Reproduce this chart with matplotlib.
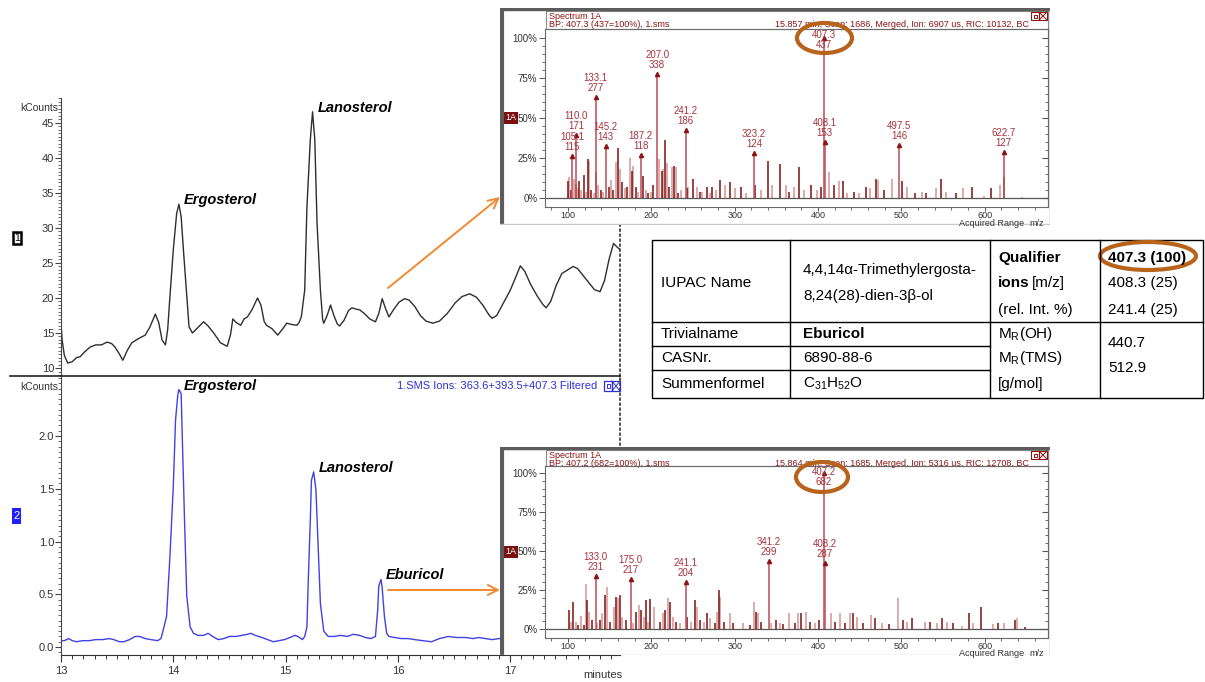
import numpy as np
import matplotlib
matplotlib.use("Agg")
import matplotlib.pyplot as plt
from matplotlib.patches import Rectangle, Ellipse, FancyArrowPatch
from matplotlib.ticker import MultipleLocator, FixedLocator, FuncFormatter

plt.rcParams['font.family'] = ['Liberation Sans', 'DejaVu Sans']
plt.rcParams['mathtext.fontset'] = 'custom'
plt.rcParams['mathtext.rm'] = 'Liberation Sans'

# ---------------- chromatograms (retention time [min], intensity [kCounts]) ----------------
tic_time = [13.00, 13.01, 13.03, 13.06, 13.10, 13.14, 13.17, 13.21, 13.26, 13.31, 13.36, 13.41,
            13.45, 13.48, 13.52, 13.55, 13.59, 13.63, 13.69, 13.75, 13.79, 13.84, 13.87, 13.90,
            13.93, 13.95, 13.97, 14.00, 14.03, 14.05, 14.07, 14.09, 14.12, 14.14, 14.17, 14.22,
            14.27, 14.31, 14.36, 14.42, 14.48, 14.51, 14.53, 14.56, 14.60, 14.63, 14.66, 14.70,
            14.75, 14.78, 14.81, 14.83, 14.88, 14.93, 14.97, 15.01, 15.06, 15.10, 15.12, 15.14,
            15.17, 15.19, 15.22, 15.24, 15.26, 15.28, 15.31, 15.33, 15.34, 15.37, 15.40, 15.43,
            15.46, 15.48, 15.52, 15.56, 15.59, 15.63, 15.66, 15.70, 15.75, 15.80, 15.83, 15.86,
            15.89, 15.92, 15.96, 16.01, 16.06, 16.10, 16.15, 16.20, 16.25, 16.31, 16.37, 16.44,
            16.51, 16.57, 16.64, 16.70, 16.76, 16.81, 16.84, 16.88, 16.94, 17.00, 17.05, 17.09,
            17.13, 17.18, 17.24, 17.29, 17.32, 17.36, 17.41, 17.46, 17.51, 17.56, 17.60, 17.65,
            17.70, 17.75, 17.80, 17.84, 17.88, 17.92, 17.95, 17.98]
tic_kcounts = [16.4, 14.0, 11.8, 10.7, 10.9, 11.5, 11.6, 12.3, 13.0, 13.3, 13.3, 13.7,
               13.5, 13.0, 12.0, 11.1, 12.5, 13.6, 14.2, 14.7, 15.8, 17.7, 16.5, 14.0,
               13.3, 15.5, 20.2, 26.9, 32.1, 33.4, 31.6, 26.9, 20.2, 15.9, 15.0, 15.8,
               16.6, 16.0, 15.0, 13.6, 13.1, 14.8, 17.0, 16.5, 16.1, 17.0, 17.3, 18.3,
               20.0, 19.0, 16.6, 16.1, 15.6, 14.7, 15.5, 16.4, 16.2, 16.1, 16.5, 17.3,
               21.1, 33.0, 42.6, 46.6, 42.6, 30.7, 21.1, 16.9, 16.4, 17.5, 19.0, 17.5,
               16.3, 16.0, 16.8, 18.2, 18.6, 18.4, 18.3, 17.8, 17.0, 16.6, 17.8, 19.9,
               18.5, 17.3, 18.3, 19.4, 19.9, 19.7, 18.8, 17.5, 16.7, 16.4, 16.7, 17.8,
               19.3, 20.2, 20.6, 20.1, 18.9, 17.6, 17.1, 17.5, 19.3, 21.1, 23.0, 24.6,
               23.8, 22.0, 20.3, 19.1, 18.6, 19.5, 21.8, 23.5, 24.0, 24.5, 24.2, 23.2,
               22.2, 21.2, 20.9, 22.5, 25.5, 27.8, 27.3, 26.9]

sim_time = [13.00, 13.03, 13.07, 13.10, 13.14, 13.19, 13.25, 13.31, 13.37, 13.43, 13.47, 13.52,
            13.56, 13.61, 13.66, 13.70, 13.75, 13.80, 13.86, 13.89, 13.91, 13.94, 13.97, 14.00,
            14.02, 14.04, 14.05, 14.07, 14.08, 14.10, 14.12, 14.15, 14.18, 14.22, 14.27, 14.31,
            14.35, 14.40, 14.45, 14.50, 14.56, 14.61, 14.66, 14.69, 14.73, 14.79, 14.84, 14.89,
            14.94, 14.99, 15.04, 15.08, 15.11, 15.15, 15.17, 15.19, 15.20, 15.22, 15.23, 15.25,
            15.27, 15.29, 15.31, 15.34, 15.38, 15.43, 15.49, 15.55, 15.60, 15.66, 15.71, 15.76,
            15.80, 15.82, 15.83, 15.85, 15.86, 15.88, 15.90, 15.92, 15.97, 16.03, 16.09, 16.15,
            16.22, 16.30, 16.37, 16.45, 16.52, 16.60, 16.67, 16.72, 16.78, 16.84, 16.90, 16.96,
            17.02]
sim_kcounts = [0.06, 0.06, 0.08, 0.06, 0.05, 0.06, 0.06, 0.07, 0.07, 0.08, 0.07, 0.05,
               0.05, 0.07, 0.10, 0.10, 0.08, 0.07, 0.06, 0.08, 0.16, 0.29, 0.86, 1.52,
               2.15, 2.39, 2.44, 2.40, 1.99, 1.20, 0.48, 0.19, 0.13, 0.11, 0.11, 0.13,
               0.10, 0.07, 0.08, 0.10, 0.10, 0.11, 0.12, 0.13, 0.11, 0.09, 0.07, 0.05,
               0.06, 0.07, 0.09, 0.11, 0.10, 0.07, 0.10, 0.19, 0.57, 1.20, 1.58, 1.66,
               1.49, 0.95, 0.41, 0.15, 0.10, 0.10, 0.11, 0.10, 0.12, 0.11, 0.09, 0.08,
               0.10, 0.35, 0.58, 0.64, 0.56, 0.29, 0.13, 0.10, 0.09, 0.08, 0.08, 0.07,
               0.06, 0.05, 0.08, 0.10, 0.09, 0.09, 0.08, 0.09, 0.08, 0.07, 0.08, 0.08,
               0.08]

tic_peak_names = ['Ergosterol', 'Lanosterol']
tic_peak_times = [14.05, 15.24]
sim_peak_names = ['Ergosterol', 'Lanosterol', 'Eburicol']
sim_peak_times = [14.05, 15.25, 15.85]
sim_title = '1.SMS Ions: 363.6+393.5+407.3 Filtered'

# ---------------- mass spectra (m/z, relative abundance %) ----------------
spec1_mz = [100.4, 101.6, 103.6, 107.0, 109.0, 112.0, 113.6, 116.0, 119.2, 121.0, 124.4, 125.6,
            128.0, 131.0, 134.0, 136.4, 139.2, 142.0, 149.2, 151.0, 154.4, 158.0, 160.4, 162.4,
            165.2, 168.4, 171.2, 174.0, 176.4, 178.4, 181.2, 184.4, 190.0, 193.2, 196.0, 199.2,
            202.0, 208.6, 212.4, 214.0, 216.4, 218.4, 221.2, 225.2, 227.6, 229.2, 231.6, 236.0,
            242.2, 244.4, 250.4, 255.2, 258.0, 261.2, 267.2, 270.0, 273.2, 277.2, 282.0, 288.4,
            294.0, 300.4, 307.2, 314.0, 324.2, 331.2, 339.6, 345.2, 354.4, 361.2, 365.0, 371.2,
            377.2, 383.2, 391.2, 399.2, 403.2, 413.2, 419.2, 425.2, 430.4, 435.2, 443.2, 449.0,
            457.2, 462.0, 470.0, 472.4, 479.2, 488.4, 501.2, 507.2, 516.4, 524.4, 530.0, 541.2,
            547.2, 554.0, 565.2, 574.4, 584.4, 599.2, 607.2, 618.0, 623.2, 644.4]
spec1_pct = [10.6, 13.3, 5.0, 12.0, 9.0, 6.0, 10.6, 5.0, 14.4, 4.0, 24.4, 23.0,
             5.0, 3.0, 16.0, 8.0, 5.0, 4.0, 7.0, 11.0, 5.0, 22.6, 31.0, 18.0,
             10.0, 6.0, 7.0, 25.0, 17.0, 20.0, 7.0, 4.0, 14.0, 5.0, 3.0, 4.0,
             8.0, 24.4, 17.0, 18.0, 36.0, 22.0, 7.0, 19.5, 20.0, 19.5, 3.0, 5.0,
             6.0, 7.0, 12.0, 7.0, 4.0, 4.0, 7.0, 3.0, 7.0, 5.0, 11.0, 8.0,
             10.0, 6.0, 7.0, 3.0, 8.0, 5.0, 23.0, 8.0, 21.0, 8.0, 4.0, 7.0,
             19.5, 5.0, 8.0, 5.0, 7.0, 16.5, 8.0, 10.5, 10.6, 3.0, 4.0, 3.0,
             7.0, 6.0, 12.0, 11.0, 5.0, 12.0, 10.6, 7.0, 3.0, 4.0, 3.0, 6.0,
             12.0, 4.0, 3.0, 6.0, 7.0, 1.0, 6.5, 8.0, 13.0, 0.5]
spec1_label_mz = [105.1, 110.0, 133.1, 145.2, 187.2, 207.0, 241.2, 323.2, 407.3, 408.1, 497.5, 622.7]
spec1_label_counts = [115, 171, 277, 143, 118, 338, 186, 124, 437, 153, 146, 127]
spec1_base = 437
spec1_bp = 'BP: 407.3 (437=100%), 1.sms'
spec1_info = '15.857 min, Scan: 1686, Merged, Ion: 6907 us, RIC: 10132, BC'

spec2_mz = [100.8, 103.2, 106.0, 109.2, 112.0, 116.0, 118.8, 122.0, 123.2, 125.2, 129.2, 135.2,
            138.0, 141.2, 144.0, 146.8, 150.0, 154.8, 157.2, 160.0, 162.0, 165.2, 169.2, 178.0,
            182.0, 185.2, 188.0, 190.8, 193.2, 196.0, 198.8, 202.8, 210.0, 214.0, 216.8, 220.0,
            222.8, 226.0, 230.0, 234.0, 243.2, 248.0, 252.8, 255.2, 258.0, 262.8, 266.8, 270.8,
            276.0, 278.8, 280.8, 282.8, 286.8, 294.0, 298.0, 310.0, 318.0, 322.8, 326.0, 328.0,
            332.0, 344.0, 349.2, 354.0, 358.0, 365.2, 372.0, 376.0, 380.0, 385.2, 390.0, 396.0,
            401.2, 416.0, 420.0, 426.8, 432.0, 438.4, 441.6, 447.2, 454.4, 463.2, 468.4, 476.4,
            485.6, 496.4, 502.4, 506.4, 512.4, 528.4, 534.4, 542.4, 548.4, 554.4, 562.4, 572.4,
            581.6, 586.4, 595.2, 609.6, 616.4, 623.2, 636.4, 639.2, 648.4]
spec2_pct = [12.2, 4.6, 17.5, 4.6, 2.5, 8.3, 2.5, 28.6, 18.6, 11.0, 5.8, 3.6,
             5.8, 10.0, 21.8, 27.0, 4.6, 14.0, 20.5, 19.6, 21.8, 7.5, 5.8, 3.6,
             11.0, 15.2, 12.0, 7.9, 18.6, 4.6, 19.0, 14.0, 4.6, 10.0, 12.0, 20.0,
             17.5, 7.9, 4.6, 4.0, 7.9, 4.6, 18.6, 14.0, 5.8, 4.6, 10.0, 7.0,
             3.6, 11.0, 24.8, 20.5, 4.6, 10.0, 3.6, 3.6, 2.5, 17.5, 11.0, 10.0,
             4.6, 4.0, 5.8, 4.0, 3.2, 10.0, 3.6, 10.0, 10.5, 11.0, 4.6, 4.0,
             5.8, 10.0, 4.6, 10.0, 4.0, 10.5, 10.0, 7.9, 3.6, 9.0, 7.0, 4.0,
             3.2, 19.6, 5.8, 4.6, 7.0, 4.6, 4.6, 3.6, 7.0, 4.6, 4.0, 2.0,
             10.0, 3.6, 14.0, 3.2, 4.0, 4.0, 5.8, 7.0, 1.5]
spec2_label_mz = [133.0, 175.0, 241.1, 341.2, 407.2, 408.2]
spec2_label_counts = [231, 217, 204, 299, 682, 287]
spec2_base = 682
spec2_bp = 'BP: 407.2 (682=100%), 1.sms'
spec2_info = '15.864 min, Scan: 1685, Merged, Ion: 5316 us, RIC: 12708, BC'

# ---------------- compound table ----------------
tbl_col1 = ['IUPAC Name', 'Trivialname', 'CASNr.', 'Summenformel']
tbl_iupac = ['4,4,14\u03b1-Trimethylergosta-', '8,24(28)-dien-3\u03b2-ol']
tbl_trivial = 'Eburicol'
tbl_cas = '6890-88-6'
tbl_formula = r'C$_\mathregular{31}$H$_\mathregular{52}$O'
tbl_qual_ions = ['407.3 (100)', '408.3 (25)', '241.4 (25)']
tbl_mass_labels = [r'M$_\mathregular{R}$(OH)', r'M$_\mathregular{R}$(TMS)', '[g/mol]']
tbl_masses = ['440.7', '512.9']

# ---------------- figure ----------------
W, H = 1205, 682
fig = plt.figure(figsize=(W / 100, H / 100), dpi=100)
fig.patch.set_facecolor('white')

ORANGE = '#f08a30'
RING = '#b8631c'
DARKRED = '#8b1414'
LABELRED = '#a8323e'


def frac(x0, y0, x1, y1):
    return [x0 / W, 1 - y1 / H, (x1 - x0) / W, (y1 - y0) / H]


def pixel_axes(x0, y0, x1, y1, z, face=None):
    a = fig.add_axes(frac(x0, y0, x1, y1), zorder=z)
    a.set_xlim(x0, x1)
    a.set_ylim(y1, y0)
    a.set_axis_off()
    if face:
        a.add_patch(Rectangle((x0, y0), x1 - x0, y1 - y0, facecolor=face,
                              edgecolor='none', zorder=0))
    return a


def chrom_axes(y0, y1, ylim):
    a = fig.add_axes(frac(61, y0, 620, y1), zorder=2)
    a.patch.set_alpha(0)
    a.set_xlim(13.0, 13.0 + (620 - 61) / 112.3)
    a.set_ylim(*ylim)
    a.spines['top'].set_visible(False)
    a.spines['right'].set_linestyle((0, (1, 2)))
    a.spines['right'].set_color('#333333')
    a.spines['right'].set_linewidth(1.2)
    a.spines['left'].set_color('#444444')
    a.tick_params(axis='y', which='major', direction='out', length=4, width=0.8,
                  labelsize=8, labelcolor='#333333', color='#444444', pad=1)
    a.tick_params(axis='y', which='minor', direction='out', length=2.5, width=0.6,
                  color='#555555')
    return a


def label_peaks(ax, t, v, names, times):
    t = np.asarray(t)
    v = np.asarray(v)
    for name, tp in zip(names, times):
        idx = np.flatnonzero(np.abs(t - tp) <= 0.03)
        i = idx[np.argmax(v[idx])]
        ax.annotate(name, (t[i], v[i]), xytext=(5, 4), textcoords='offset pixels',
                    ha='left', va='center', fontsize=10.5, fontweight='bold',
                    fontstyle='italic', color='black')


# top chromatogram (TIC)
ax1 = chrom_axes(98, 376, (10 - 8 / 7, 10 + 270 / 7))
ax1.spines['bottom'].set_visible(False)
ax1.set_xticks([])
ax1.set_yticks(range(10, 50, 5))
ax1.yaxis.set_minor_locator(MultipleLocator(0.5))
ax1.plot(tic_time, tic_kcounts, color='#2e2e2e', lw=1.0)
label_peaks(ax1, tic_time, tic_kcounts, tic_peak_names, tic_peak_times)

# bottom chromatogram (SIM)
ax2 = chrom_axes(376, 655, (-8 / 105.5, 271 / 105.5))
ax2.set_yticks([0.0, 0.5, 1.0, 1.5, 2.0])
ax2.yaxis.set_major_formatter(FuncFormatter(lambda v, p: f'{v:.1f}'))
ax2.yaxis.set_minor_locator(MultipleLocator(0.05))
ax2.set_xticks([13, 14, 15, 16, 17])
ax2.xaxis.set_minor_locator(MultipleLocator(0.1))
ax2.spines['bottom'].set_color('#333333')
ax2.tick_params(axis='x', which='major', direction='out', length=5, width=0.8,
                labelsize=8, labelcolor='#333333', color='#333333', pad=3)
ax2.tick_params(axis='x', which='minor', direction='out', length=3, width=0.7,
                color='#333333')
ax2.plot(sim_time, sim_kcounts, color='#4141e4', lw=1.0)
label_peaks(ax2, sim_time, sim_kcounts, sim_peak_names, sim_peak_times)


def spectrum_panel(top, bottom, ax_top, ax_bottom, zero_px, full_px, mz, pct,
                   lab_mz, lab_cnt, base, bp_text, info_text, tag_y):
    panel = pixel_axes(500, top, 1050, bottom, 5, face='white')
    panel.plot([501.5, 501.5], [top, bottom], color='#5c5c5c', lw=3, solid_capstyle='butt')
    panel.plot([500, 1050], [top + 1, top + 1], color='#5c5c5c', lw=2.5, solid_capstyle='butt')
    panel.plot([1049.5, 1049.5], [top, bottom], color='#9a9a9a', lw=1)
    panel.plot([500, 1050], [bottom - 0.5, bottom - 0.5], color='#c8c8c8', lw=1)
    panel.add_patch(Rectangle((546, top + 2.5), 502, ax_top - top - 2.5, fill=False,
                              edgecolor='#8c8c8c', lw=0.8))
    panel.text(549, top + 8.5, 'Spectrum 1A', fontsize=6.5, color=DARKRED, va='center', ha='left')
    panel.text(549, top + 16.5, bp_text, fontsize=6.5, color=DARKRED, va='center', ha='left')
    panel.text(1029, top + 16.5, info_text, fontsize=6.5, color=DARKRED, va='center', ha='right')
    # window buttons
    panel.add_patch(Rectangle((1031, top + 4), 8, 8, fill=False, edgecolor=DARKRED, lw=0.8))
    panel.add_patch(Rectangle((1033.5, top + 6.5), 3, 3, fill=False, edgecolor=DARKRED, lw=0.7))
    panel.add_patch(Rectangle((1039, top + 4), 8, 8, fill=False, edgecolor=DARKRED, lw=0.8))
    panel.plot([1039, 1047], [top + 4, top + 12], color=DARKRED, lw=0.7)
    panel.plot([1039, 1047], [top + 12, top + 4], color=DARKRED, lw=0.7)
    # trace tag
    panel.add_patch(Rectangle((503, tag_y - 6), 15, 12, facecolor='#7a1010', edgecolor='none'))
    panel.text(510.5, tag_y, '1A', fontsize=6.5, color='white', ha='center', va='center')
    panel.text(992, bottom - 1, 'Acquired Range', fontsize=6.5, color='#333333', ha='center', va='center')
    panel.text(1037, bottom - 1, 'm/z', fontsize=6.5, color='#333333', ha='center', va='center')

    sp = fig.add_axes(frac(545, ax_top, 1048, ax_bottom), zorder=6)
    sp.patch.set_alpha(0)
    ppp = (zero_px - full_px) / 100.0
    ymin, ymax = (zero_px - ax_bottom) / ppp, (zero_px - ax_top) / ppp
    sp.set_ylim(ymin, ymax)
    sp.set_xlim(100 + (545 - 568) * 1.2, 100 + (1048 - 568) * 1.2)
    for s in ['left', 'bottom', 'right', 'top']:
        sp.spines[s].set_color('#6a6a6a')
        sp.spines[s].set_linewidth(0.8)
    sp.set_yticks([0, 25, 50, 75, 100])
    sp.yaxis.set_major_formatter(FuncFormatter(lambda v, p: f'{int(v)}%'))
    sp.yaxis.set_minor_locator(FixedLocator(range(0, 101, 5)))
    sp.set_xticks([100, 200, 300, 400, 500, 600])
    sp.xaxis.set_minor_locator(FixedLocator(range(80, 680, 20)))
    sp.tick_params(axis='y', which='major', direction='out', length=4, width=0.7, color='#555555',
                   labelsize=7, labelcolor='#333333', pad=1.5)
    sp.tick_params(axis='x', which='major', direction='out', length=3, width=0.7, color='#555555',
                   labelsize=6.5, labelcolor='#333333', pad=0)
    sp.tick_params(which='minor', direction='out', length=2, width=0.6, color='#555555')
    sec = sp.secondary_yaxis('right')
    sec.set_yticks([0, 25, 50, 75, 100])
    sec.yaxis.set_minor_locator(FixedLocator(range(0, 101, 5)))
    sec.tick_params(which='both', direction='in', labelright=False, color='#555555')
    sec.tick_params(which='major', length=4)
    sec.tick_params(which='minor', length=2)
    sec.spines['right'].set_color('#6a6a6a')

    sp.axhline(0, color='#555555', lw=0.9, zorder=1)
    mz = np.asarray(mz)
    pct = np.asarray(pct)
    sp.vlines(mz[1::2], 0, pct[1::2], color='#d39595', lw=1.1, zorder=2)
    sp.vlines(mz[::2], 0, pct[::2], color='#7c1010', lw=1.1, zorder=2)

    lab_mz = np.asarray(lab_mz)
    lab_pct = np.asarray(lab_cnt) / base * 100.0
    sp.vlines(lab_mz, 0, lab_pct, color='#bf5a63', lw=1.2, zorder=3)
    sp.plot(lab_mz, lab_pct, '^', ms=3, color=DARKRED, zorder=4)
    for m, c, p in zip(lab_mz, lab_cnt, lab_pct):
        text = f'{m:.1f}\n{c}'
        if p > 90:
            sp.annotate(text, (m, ymax), xytext=(0, -1), textcoords='offset pixels',
                        ha='center', va='top', fontsize=7, color=LABELRED,
                        linespacing=1.0, zorder=5)
        else:
            sp.annotate(text, (m, p), xytext=(0, 4), textcoords='offset pixels',
                        ha='center', va='bottom', fontsize=7, color=LABELRED,
                        linespacing=1.0, zorder=5)
    return sp


spectrum_panel(8, 225, 29, 207, 198, 38, spec1_mz, spec1_pct, spec1_label_mz,
               spec1_label_counts, spec1_base, spec1_bp, spec1_info, 118)
spectrum_panel(447, 655, 466, 638, 629, 473, spec2_mz, spec2_pct, spec2_label_mz,
               spec2_label_counts, spec2_base, spec2_bp, spec2_info, 552)

# ---------------- overlay in pixel coordinates ----------------
ov = pixel_axes(0, 0, W, H, 20)

# separator between the two chromatograms
ov.plot([10, 620], [376, 376], color='#222222', lw=1.2)
ov.text(58, 108, 'kCounts', fontsize=7.5, color='#333333', ha='right', va='center')
ov.text(58, 387, 'kCounts', fontsize=7.5, color='#333333', ha='right', va='center')
ov.text(603, 675, 'minutes', fontsize=8, color='#333333', ha='center', va='center')

# trace number boxes
ov.add_patch(Rectangle((12.5, 231.5), 8.5, 12, facecolor='white', edgecolor='black', lw=1.8))
ov.text(16.8, 237.7, '1', fontsize=7.5, color='black', ha='center', va='center')
ov.add_patch(Rectangle((11.5, 508), 9.5, 16, facecolor='#1f1fff', edgecolor='none'))
ov.text(16.3, 516, '2', fontsize=8, color='white', ha='center', va='center')

# SIM trace title and window buttons
ov.text(597, 386, sim_title, fontsize=8, color='#3030d8', ha='right', va='center')
ov.add_patch(Rectangle((604, 381), 8, 10, fill=False, edgecolor='#3030d8', lw=0.9))
ov.add_patch(Rectangle((606.5, 384), 3, 4, fill=False, edgecolor='#3030d8', lw=0.7))
ov.add_patch(Rectangle((612, 381), 8, 10, fill=False, edgecolor='#3030d8', lw=0.9))
ov.plot([612, 620], [381, 391], color='#3030d8', lw=0.7)
ov.plot([612, 620], [391, 381], color='#3030d8', lw=0.7)

# arrows from peaks to spectra
for start, end in [((388, 288), (500, 197)), ((388, 590), (500, 590))]:
    ov.add_patch(FancyArrowPatch(start, end, arrowstyle='->', mutation_scale=18,
                                 color=ORANGE, lw=1.4, shrinkA=0, shrinkB=0))

# rings around the base peak
ov.add_patch(Ellipse((824.5, 38), 55, 30, fill=False, edgecolor=RING, lw=3))
ov.add_patch(Ellipse((822, 477), 52, 30, fill=False, edgecolor=RING, lw=3))

# ---------------- compound table ----------------
tx0, tx1, ty0, ty1 = 652, 1203, 240, 398
ov.add_patch(Rectangle((tx0, ty0), tx1 - tx0, ty1 - ty0, fill=False, edgecolor='black', lw=1.0))
for xv in [790, 990, 1100]:
    ov.plot([xv, xv], [ty0, ty1], color='black', lw=1.0)
ov.plot([tx0, tx1], [322, 322], color='black', lw=1.0)
for yv in [346, 370]:
    ov.plot([tx0, 990], [yv, yv], color='black', lw=1.0)

fs = 11
for txt, yv in zip(tbl_col1, [283, 334, 358, 384]):
    ov.text(661, yv, txt, fontsize=fs, ha='left', va='center')
ov.text(803, 270, tbl_iupac[0], fontsize=fs, ha='left', va='center')
ov.text(803, 296, tbl_iupac[1], fontsize=fs, ha='left', va='center')
ov.text(803, 334, tbl_trivial, fontsize=fs, fontweight='bold', ha='left', va='center')
ov.text(803, 358, tbl_cas, fontsize=fs, ha='left', va='center')
ov.text(803, 384, tbl_formula, fontsize=fs, ha='left', va='center')
ov.text(998, 258, 'Qualifier', fontsize=fs, fontweight='bold', ha='left', va='center')
ov.text(998, 283, 'ions', fontsize=fs, fontweight='bold', ha='left', va='center')
ov.text(1032, 283, '[m/z]', fontsize=fs, ha='left', va='center')
ov.text(998, 310, '(rel. Int. %)', fontsize=fs, ha='left', va='center')
for txt, yv in zip(tbl_mass_labels, [334, 358, 384]):
    ov.text(998, yv, txt, fontsize=fs, ha='left', va='center')
for i, (txt, yv) in enumerate(zip(tbl_qual_ions, [258, 283, 310])):
    ov.text(1108, yv, txt, fontsize=fs, fontweight='bold' if i == 0 else 'normal',
            ha='left', va='center')
for txt, yv in zip(tbl_masses, [343, 368]):
    ov.text(1108, yv, txt, fontsize=fs, ha='left', va='center')
ov.add_patch(Ellipse((1148, 256), 96, 28, fill=False, edgecolor=RING, lw=3))

fig.savefig('out.png', dpi=100, facecolor='white')
